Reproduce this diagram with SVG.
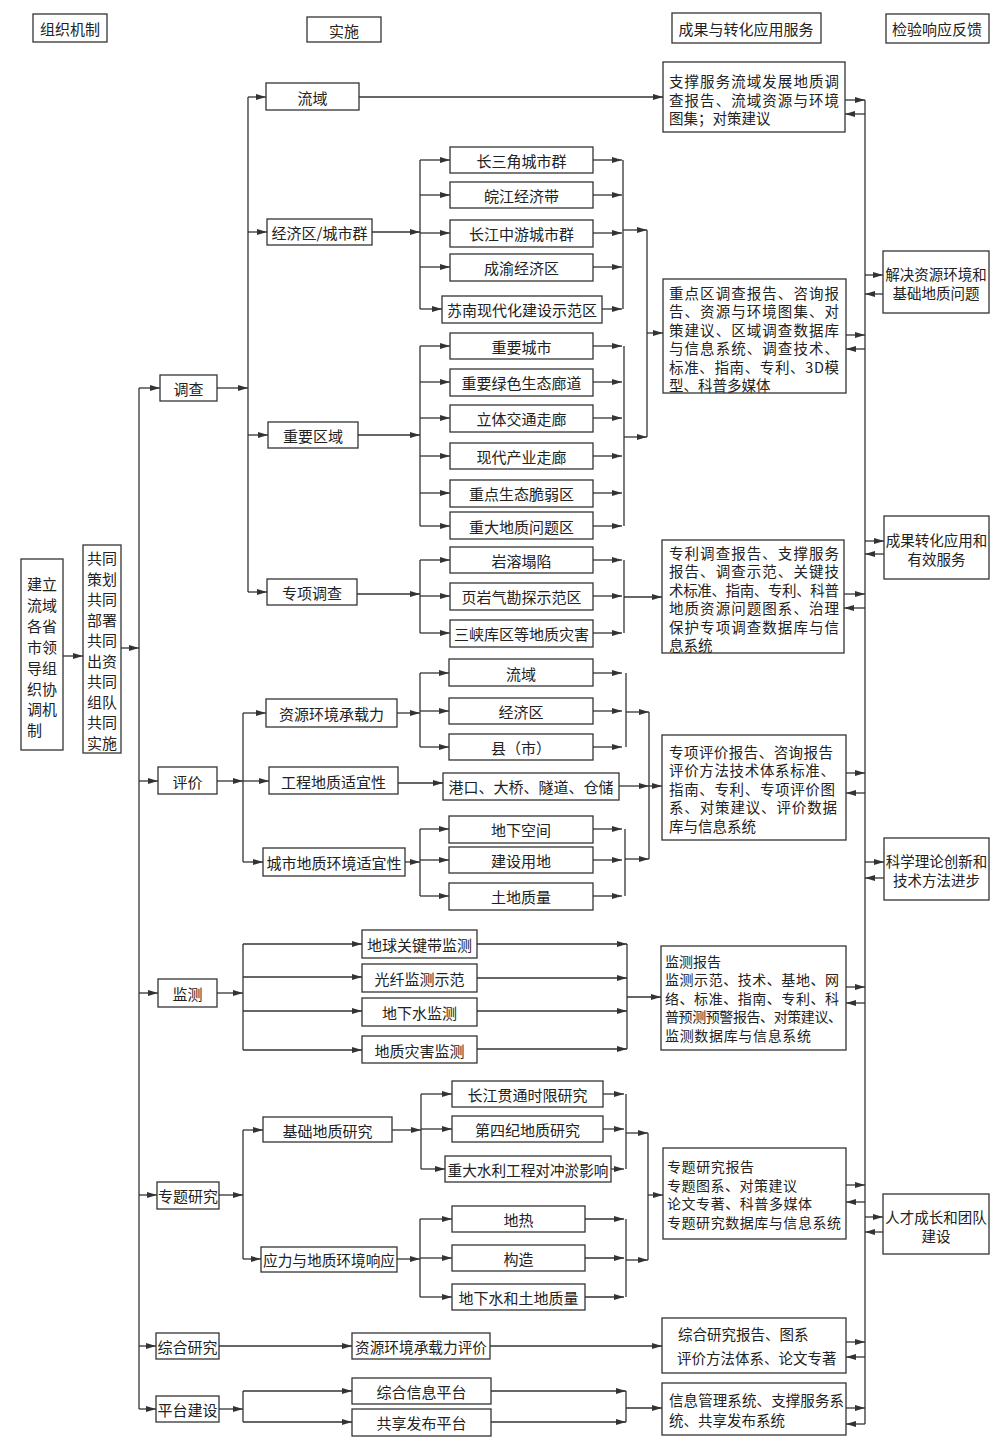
<svg xmlns="http://www.w3.org/2000/svg" width="1000" height="1444" viewBox="0 0 1000 1444">
<style>
.b{fill:#fff;stroke:#333;stroke-width:1.3}
.t{font-family:"Noto Sans CJK SC","Noto Sans CJK JP",sans-serif;font-size:15px;fill:#222;text-anchor:middle;dominant-baseline:central}
.s{font-size:14.5px}
.m{font-size:14px}
.l{text-anchor:start}
.c{stroke:#333;stroke-width:1.3;fill:none}
.a{marker-end:url(#ar)}
</style>
<defs>
<marker id="ar" markerWidth="10" markerHeight="6" refX="10" refY="3" orient="auto" markerUnits="userSpaceOnUse"><path d="M0,0 L10,3 L0,6 z" fill="#333"/></marker>
</defs>
<rect width="1000" height="1444" fill="#fff"/>

<g id="headers">
<g id="h1"><rect class="b" x="33" y="14" width="74" height="28"/><text class="t" x="70" y="28">组织机制</text></g>
<g id="h2"><rect class="b" x="307" y="17" width="74" height="25"/><text class="t" x="344" y="30">实施</text></g>
<g id="h3"><rect class="b" x="672" y="13" width="149" height="30"/><text class="t" x="746" y="28">成果与转化应用服务</text></g>
<g id="h4"><rect class="b" x="886" y="14" width="103" height="29"/><text class="t" x="937" y="28">检验响应反馈</text></g>
</g>

<g id="connectors">
<path class="c a" d="M63,656 H83"/>
<path class="c a" d="M121,648 H139"/>
<path class="c" d="M139,388 V1409"/>
<path class="c a" d="M139,388 H160"/>
<path class="c a" d="M139,781 H158"/>
<path class="c a" d="M139,993 H158"/>
<path class="c a" d="M139,1195 H157"/>
<path class="c a" d="M139,1346 H156"/>
<path class="c a" d="M139,1409 H156"/>
<path class="c a" d="M217,388 H248"/>
<path class="c" d="M248,97 V592"/>
<path class="c a" d="M248,97 H266"/>
<path class="c a" d="M248,232 H267"/>
<path class="c a" d="M248,435 H268"/>
<path class="c a" d="M248,592 H267"/>
<path class="c a" d="M359,97 H663"/>
<path class="c a" d="M372,232 H420"/>
<path class="c" d="M420,160 V309"/>
<path class="c a" d="M420,160 H450"/>
<path class="c a" d="M420,195 H450"/>
<path class="c a" d="M420,233 H450"/>
<path class="c a" d="M420,267 H450"/>
<path class="c a" d="M420,309 H442"/>
<path class="c a" d="M593,160 H622"/>
<path class="c a" d="M593,195 H622"/>
<path class="c a" d="M593,233 H622"/>
<path class="c a" d="M593,267 H622"/>
<path class="c a" d="M602,309 H622"/>
<path class="c" d="M623,160 V309"/>
<path class="c a" d="M623,230 H647"/>
<path class="c a" d="M358,435 H420"/>
<path class="c" d="M420,346 V526"/>
<path class="c a" d="M420,346 H450"/>
<path class="c a" d="M420,382 H450"/>
<path class="c a" d="M420,418 H450"/>
<path class="c a" d="M420,456 H450"/>
<path class="c a" d="M420,493 H450"/>
<path class="c a" d="M420,526 H450"/>
<path class="c a" d="M593,346 H622"/>
<path class="c a" d="M593,382 H622"/>
<path class="c a" d="M593,418 H622"/>
<path class="c a" d="M593,456 H622"/>
<path class="c a" d="M593,493 H622"/>
<path class="c a" d="M593,526 H622"/>
<path class="c" d="M624,346 V526"/>
<path class="c a" d="M624,437 H647"/>
<path class="c" d="M647,230 V437"/>
<path class="c a" d="M647,333 H663"/>
<path class="c a" d="M357,594 H420"/>
<path class="c" d="M420,560 V633"/>
<path class="c a" d="M420,560 H450"/>
<path class="c a" d="M420,596 H450"/>
<path class="c a" d="M420,633 H450"/>
<path class="c a" d="M593,560 H622"/>
<path class="c a" d="M593,596 H622"/>
<path class="c a" d="M593,633 H622"/>
<path class="c" d="M624,560 V633"/>
<path class="c a" d="M624,597 H662"/>
<path class="c a" d="M217,781 H243"/>
<path class="c" d="M243,713 V862"/>
<path class="c a" d="M243,713 H266"/>
<path class="c a" d="M243,781 H269"/>
<path class="c a" d="M243,862 H263"/>
<path class="c a" d="M397,713 H420"/>
<path class="c" d="M420,673 V747"/>
<path class="c a" d="M420,673 H449"/>
<path class="c a" d="M420,711 H449"/>
<path class="c a" d="M420,747 H449"/>
<path class="c a" d="M593,673 H622"/>
<path class="c a" d="M593,711 H622"/>
<path class="c a" d="M593,747 H622"/>
<path class="c" d="M626,673 V747"/>
<path class="c a" d="M626,712 H649"/>
<path class="c a" d="M398,783 H443"/>
<path class="c a" d="M619,786 H649"/>
<path class="c a" d="M649,786 H662"/>
<path class="c a" d="M405,862 H420"/>
<path class="c" d="M420,829 V896"/>
<path class="c a" d="M420,829 H449"/>
<path class="c a" d="M420,860 H449"/>
<path class="c a" d="M420,896 H449"/>
<path class="c a" d="M593,829 H622"/>
<path class="c a" d="M593,860 H622"/>
<path class="c a" d="M593,896 H622"/>
<path class="c" d="M625,829 V896"/>
<path class="c a" d="M625,859 H649"/>
<path class="c" d="M649,712 V859"/>
<path class="c a" d="M217,993 H243"/>
<path class="c" d="M243,944 V1050"/>
<path class="c a" d="M243,944 H362"/>
<path class="c a" d="M243,977 H362"/>
<path class="c a" d="M243,1011 H362"/>
<path class="c a" d="M243,1050 H362"/>
<path class="c a" d="M477,944 H627"/>
<path class="c a" d="M477,978 H627"/>
<path class="c a" d="M477,1011 H627"/>
<path class="c a" d="M477,1049 H627"/>
<path class="c" d="M627,944 V1049"/>
<path class="c a" d="M627,997 H661"/>
<path class="c a" d="M219,1195 H243"/>
<path class="c" d="M243,1130 V1259"/>
<path class="c a" d="M243,1130 H263"/>
<path class="c a" d="M243,1259 H261"/>
<path class="c a" d="M392,1130 H421"/>
<path class="c" d="M421,1094 V1169"/>
<path class="c a" d="M421,1094 H452"/>
<path class="c a" d="M421,1129 H452"/>
<path class="c a" d="M421,1169 H445"/>
<path class="c a" d="M603,1094 H624"/>
<path class="c a" d="M603,1129 H624"/>
<path class="c a" d="M611,1169 H624"/>
<path class="c" d="M626,1094 V1169"/>
<path class="c a" d="M626,1133 H648"/>
<path class="c a" d="M397,1259 H420"/>
<path class="c" d="M420,1219 V1297"/>
<path class="c a" d="M420,1219 H452"/>
<path class="c a" d="M420,1258 H452"/>
<path class="c a" d="M420,1297 H452"/>
<path class="c a" d="M585,1219 H624"/>
<path class="c a" d="M585,1258 H624"/>
<path class="c a" d="M585,1297 H624"/>
<path class="c" d="M626,1219 V1297"/>
<path class="c a" d="M626,1260 H648"/>
<path class="c" d="M648,1133 V1260"/>
<path class="c a" d="M648,1195 H663"/>
<path class="c a" d="M219,1346 H352"/>
<path class="c a" d="M490,1346 H662"/>
<path class="c a" d="M219,1409 H243"/>
<path class="c" d="M243,1391 V1422"/>
<path class="c a" d="M243,1391 H352"/>
<path class="c a" d="M243,1422 H352"/>
<path class="c a" d="M491,1391 H626"/>
<path class="c a" d="M491,1422 H626"/>
<path class="c" d="M626,1391 V1422"/>
<path class="c a" d="M626,1408 H662"/>
<path class="c" d="M865,100 V1424"/>
<path class="c a" d="M845,100 H865"/>
<path class="c a" d="M865,114 H845"/>
<path class="c a" d="M846,335 H865"/>
<path class="c a" d="M865,349 H846"/>
<path class="c a" d="M844,594 H865"/>
<path class="c a" d="M865,608 H844"/>
<path class="c a" d="M846,773 H865"/>
<path class="c a" d="M865,793 H846"/>
<path class="c a" d="M846,987 H865"/>
<path class="c a" d="M865,1003 H846"/>
<path class="c a" d="M846,1185 H865"/>
<path class="c a" d="M865,1202 H846"/>
<path class="c a" d="M846,1342 H865"/>
<path class="c a" d="M865,1357 H846"/>
<path class="c a" d="M846,1408 H865"/>
<path class="c a" d="M865,1424 H846"/>
<path class="c a" d="M865,275 H883"/>
<path class="c a" d="M883,294 H865"/>
<path class="c a" d="M865,541 H884"/>
<path class="c a" d="M884,554 H865"/>
<path class="c a" d="M865,862 H884"/>
<path class="c a" d="M884,878 H865"/>
<path class="c a" d="M865,1217 H883"/>
<path class="c a" d="M883,1232 H865"/>
</g>

<g id="n-org"><rect class="b" x="21" y="559" width="42" height="191"/>
<text class="t l" x="27" y="583"><tspan x="27">建立</tspan><tspan x="27" dy="20.9">流域</tspan><tspan x="27" dy="20.9">各省</tspan><tspan x="27" dy="20.9">市领</tspan><tspan x="27" dy="20.9">导组</tspan><tspan x="27" dy="20.9">织协</tspan><tspan x="27" dy="20.9">调机</tspan><tspan x="27" dy="20.9">制</tspan></text></g>
<g id="n-joint"><rect class="b" x="83" y="545" width="38" height="208"/>
<text class="t l" x="87" y="557"><tspan x="87">共同</tspan><tspan x="87" dy="20.5">策划</tspan><tspan x="87" dy="20.5">共同</tspan><tspan x="87" dy="20.5">部署</tspan><tspan x="87" dy="20.5">共同</tspan><tspan x="87" dy="20.5">出资</tspan><tspan x="87" dy="20.5">共同</tspan><tspan x="87" dy="20.5">组队</tspan><tspan x="87" dy="20.5">共同</tspan><tspan x="87" dy="20.5">实施</tspan></text></g>

<g id="n-diaocha"><rect class="b" x="160" y="375" width="57" height="26"/><text class="t" x="188.5" y="388">调查</text></g>
<g id="n-pingjia"><rect class="b" x="158" y="767" width="59" height="27"/><text class="t" x="187.5" y="781">评价</text></g>
<g id="n-jiance"><rect class="b" x="158" y="979" width="59" height="28"/><text class="t" x="187.5" y="993">监测</text></g>
<g id="n-zhuanti"><rect class="b" x="157" y="1182" width="62" height="27"/><text class="t" x="188" y="1195">专题研究</text></g>
<g id="n-zonghe"><rect class="b" x="156" y="1333" width="63" height="26"/><text class="t" x="187.5" y="1346">综合研究</text></g>
<g id="n-pingtai"><rect class="b" x="156" y="1396" width="63" height="26"/><text class="t" x="187.5" y="1409">平台建设</text></g>

<g id="n-liuyu"><rect class="b" x="266" y="83" width="93" height="27"/><text class="t" x="312.5" y="97">流域</text></g>
<g id="n-jjq"><rect class="b" x="267" y="219" width="105" height="26"/><text class="t" x="319.5" y="232">经济区/城市群</text></g>
<g id="n-zyqy"><rect class="b" x="268" y="422" width="90" height="26"/><text class="t" x="313" y="435">重要区域</text></g>
<g id="n-zxdc"><rect class="b" x="267" y="579" width="90" height="26"/><text class="t" x="312" y="592">专项调查</text></g>

<g id="n-csj"><rect class="b" x="450" y="147" width="143" height="26"/><text class="t" x="521.5" y="160">长三角城市群</text></g>
<g id="n-wj"><rect class="b" x="450" y="182" width="143" height="26"/><text class="t" x="521.5" y="195">皖江经济带</text></g>
<g id="n-cjzy"><rect class="b" x="450" y="220" width="143" height="27"/><text class="t" x="521.5" y="233">长江中游城市群</text></g>
<g id="n-cy"><rect class="b" x="450" y="254" width="143" height="27"/><text class="t" x="521.5" y="267">成渝经济区</text></g>
<g id="n-sn"><rect class="b" x="442" y="296" width="160" height="27"/><text class="t" x="522" y="309">苏南现代化建设示范区</text></g>

<g id="n-zycs"><rect class="b" x="450" y="333" width="143" height="26"/><text class="t" x="521.5" y="346">重要城市</text></g>
<g id="n-lszl"><rect class="b" x="450" y="369" width="143" height="27"/><text class="t" x="521.5" y="382">重要绿色生态廊道</text></g>
<g id="n-ltjt"><rect class="b" x="450" y="405" width="143" height="27"/><text class="t" x="521.5" y="418">立体交通走廊</text></g>
<g id="n-xdcy"><rect class="b" x="450" y="443" width="143" height="26"/><text class="t" x="521.5" y="456">现代产业走廊</text></g>
<g id="n-stcr"><rect class="b" x="450" y="480" width="143" height="27"/><text class="t" x="521.5" y="493">重点生态脆弱区</text></g>
<g id="n-dzwt"><rect class="b" x="450" y="512" width="143" height="27"/><text class="t" x="521.5" y="526">重大地质问题区</text></g>

<g id="n-yrtx"><rect class="b" x="450" y="547" width="143" height="26"/><text class="t" x="521.5" y="560">岩溶塌陷</text></g>
<g id="n-yyq"><rect class="b" x="450" y="583" width="143" height="27"/><text class="t" x="521.5" y="596">页岩气勘探示范区</text></g>
<g id="n-sx"><rect class="b" x="450" y="620" width="143" height="27"/><text class="t" x="521.5" y="633">三峡库区等地质灾害</text></g>

<g id="n-zyhj"><rect class="b" x="266" y="699" width="131" height="28"/><text class="t" x="331.5" y="713">资源环境承载力</text></g>
<g id="n-gcdz"><rect class="b" x="269" y="767" width="129" height="27"/><text class="t" x="333.5" y="781">工程地质适宜性</text></g>
<g id="n-csdz"><rect class="b" x="263" y="848" width="142" height="28"/><text class="t" x="334" y="862">城市地质环境适宜性</text></g>
<g id="n-ly2"><rect class="b" x="449" y="659" width="144" height="27"/><text class="t" x="521" y="673">流域</text></g>
<g id="n-jjq2"><rect class="b" x="449" y="698" width="144" height="26"/><text class="t" x="521" y="711">经济区</text></g>
<g id="n-xian"><rect class="b" x="449" y="734" width="144" height="26"/><text class="t" x="521" y="747">县（市）</text></g>
<g id="n-gk"><rect class="b" x="443" y="773" width="176" height="27"/><text class="t" x="531" y="786">港口、大桥、隧道、仓储</text></g>
<g id="n-dxkj"><rect class="b" x="449" y="816" width="144" height="27"/><text class="t" x="521" y="829">地下空间</text></g>
<g id="n-jsyd"><rect class="b" x="449" y="847" width="144" height="26"/><text class="t" x="521" y="860">建设用地</text></g>
<g id="n-tdzl"><rect class="b" x="449" y="883" width="144" height="27"/><text class="t" x="521" y="896">土地质量</text></g>

<g id="n-dq"><rect class="b" x="362" y="930" width="115" height="28"/><text class="t" x="419.5" y="944">地球关键带监测</text></g>
<g id="n-gx"><rect class="b" x="362" y="964" width="115" height="28"/><text class="t" x="419.5" y="978">光纤监测示范</text></g>
<g id="n-dxs"><rect class="b" x="362" y="998" width="115" height="28"/><text class="t" x="419.5" y="1012">地下水监测</text></g>
<g id="n-dzzh"><rect class="b" x="362" y="1036" width="115" height="27"/><text class="t" x="419.5" y="1050">地质灾害监测</text></g>

<g id="n-jcdz"><rect class="b" x="263" y="1117" width="129" height="25"/><text class="t" x="327.5" y="1130">基础地质研究</text></g>
<g id="n-yl"><rect class="b" x="261" y="1247" width="136" height="25"/><text class="t" x="329" y="1259" textLength="132" lengthAdjust="spacingAndGlyphs">应力与地质环境响应</text></g>
<g id="n-cjgt"><rect class="b" x="452" y="1081" width="151" height="26"/><text class="t" x="527.5" y="1094">长江贯通时限研究</text></g>
<g id="n-dsj"><rect class="b" x="452" y="1116" width="151" height="26"/><text class="t" x="527.5" y="1129">第四纪地质研究</text></g>
<g id="n-slgc"><rect class="b" x="445" y="1156" width="166" height="26"/><text class="t" x="528" y="1169" textLength="161" lengthAdjust="spacingAndGlyphs">重大水利工程对冲淤影响</text></g>
<g id="n-dr"><rect class="b" x="452" y="1206" width="133" height="26"/><text class="t" x="518.5" y="1219">地热</text></g>
<g id="n-gz"><rect class="b" x="452" y="1245" width="133" height="26"/><text class="t" x="518.5" y="1258">构造</text></g>
<g id="n-dxstd"><rect class="b" x="452" y="1284" width="133" height="26"/><text class="t" x="518.5" y="1297">地下水和土地质量</text></g>

<g id="n-zypj"><rect class="b" x="352" y="1333" width="138" height="26"/><text class="t" x="421" y="1346" textLength="132" lengthAdjust="spacingAndGlyphs">资源环境承载力评价</text></g>
<g id="n-zhxx"><rect class="b" x="352" y="1378" width="139" height="26"/><text class="t" x="421.5" y="1391">综合信息平台</text></g>
<g id="n-gxfb"><rect class="b" x="352" y="1409" width="139" height="27"/><text class="t" x="421.5" y="1422">共享发布平台</text></g>

<g id="r1"><rect class="b" x="663" y="62" width="182" height="70"/>
<text class="t s l" x="669" y="80"><tspan x="669" textLength="170">支撑服务流域发展地质调</tspan><tspan x="669" dy="18.5" textLength="170">查报告、流域资源与环境</tspan><tspan x="669" dy="18.5">图集；对策建议</tspan></text></g>
<g id="r2"><rect class="b" x="663" y="279" width="183" height="114"/>
<text class="t s l" x="669" y="292"><tspan x="669" textLength="170">重点区调查报告、咨询报</tspan><tspan x="669" dy="18.4" textLength="170">告、资源与环境图集、对</tspan><tspan x="669" dy="18.4" textLength="170">策建议、区域调查数据库</tspan><tspan x="669" dy="18.4" textLength="170">与信息系统、调查技术、</tspan><tspan x="669" dy="18.4" textLength="170">标准、指南、专利、3D模</tspan><tspan x="669" dy="18.4">型、科普多媒体</tspan></text></g>
<g id="r3"><rect class="b" x="662" y="540" width="182" height="113"/>
<text class="t s l" x="669" y="552"><tspan x="669" textLength="170">专利调查报告、支撑服务</tspan><tspan x="669" dy="18.4" textLength="170">报告、调查示范、关键技</tspan><tspan x="669" dy="18.4" textLength="170">术标准、指南、专利、科普</tspan><tspan x="669" dy="18.4" textLength="170">地质资源问题图系、治理</tspan><tspan x="669" dy="18.4" textLength="170">保护专项调查数据库与信</tspan><tspan x="669" dy="18.4">息系统</tspan></text></g>
<g id="r4"><rect class="b" x="662" y="735" width="184" height="105"/>
<text class="t s l" x="669" y="751"><tspan x="669" textLength="164">专项评价报告、咨询报告</tspan><tspan x="669" dy="18.4" textLength="166">评价方法技术体系标准、</tspan><tspan x="669" dy="18.4" textLength="166">指南、专利、专项评价图</tspan><tspan x="669" dy="18.4" textLength="168">系、对策建议、评价数据</tspan><tspan x="669" dy="18.4">库与信息系统</tspan></text></g>
<g id="r5"><rect class="b" x="661" y="946" width="185" height="104"/>
<text class="t m l" x="665" y="961"><tspan x="665">监测报告</tspan><tspan x="665" dy="18.4" textLength="174">监测示范、技术、基地、网</tspan><tspan x="665" dy="18.4" textLength="174">络、标准、指南、专利、科</tspan><tspan x="665" dy="18.4" textLength="177">普预测预警报告、对策建议、</tspan><tspan x="665" dy="18.4" textLength="146">监测数据库与信息系统</tspan></text></g>
<g id="r6"><rect class="b" x="663" y="1148" width="183" height="91"/>
<text class="t m l" x="667" y="1166"><tspan x="667" textLength="87">专题研究报告</tspan><tspan x="667" dy="18.6" textLength="130">专题图系、对策建议</tspan><tspan x="667" dy="18.6" textLength="145">论文专著、科普多媒体</tspan><tspan x="667" dy="18.6" textLength="174">专题研究数据库与信息系统</tspan></text></g>
<g id="r7"><rect class="b" x="662" y="1318" width="184" height="55"/>
<text class="t s l" x="678" y="1333"><tspan x="678">综合研究报告、图系</tspan><tspan x="677" dy="24">评价方法体系、论文专著</tspan></text></g>
<g id="r8"><rect class="b" x="662" y="1383" width="184" height="52"/>
<text class="t s l" x="669" y="1399"><tspan x="669" textLength="175">信息管理系统、支撑服务系</tspan><tspan x="669" dy="20">统、共享发布系统</tspan></text></g>

<g id="f1"><rect class="b" x="883" y="251" width="106" height="62"/>
<text class="t s" x="936" y="272.5"><tspan x="936">解决资源环境和</tspan><tspan x="936" dy="19">基础地质问题</tspan></text></g>
<g id="f2"><rect class="b" x="884" y="516" width="105" height="63"/>
<text class="t s" x="936.5" y="538.5"><tspan x="936.5">成果转化应用和</tspan><tspan x="936.5" dy="19">有效服务</tspan></text></g>
<g id="f3"><rect class="b" x="884" y="838" width="105" height="62"/>
<text class="t s" x="936.5" y="860"><tspan x="936.5">科学理论创新和</tspan><tspan x="936.5" dy="19">技术方法进步</tspan></text></g>
<g id="f4"><rect class="b" x="883" y="1194" width="106" height="60"/>
<text class="t s" x="936" y="1215.5"><tspan x="936">人才成长和团队</tspan><tspan x="936" dy="19">建设</tspan></text></g>
</svg>
